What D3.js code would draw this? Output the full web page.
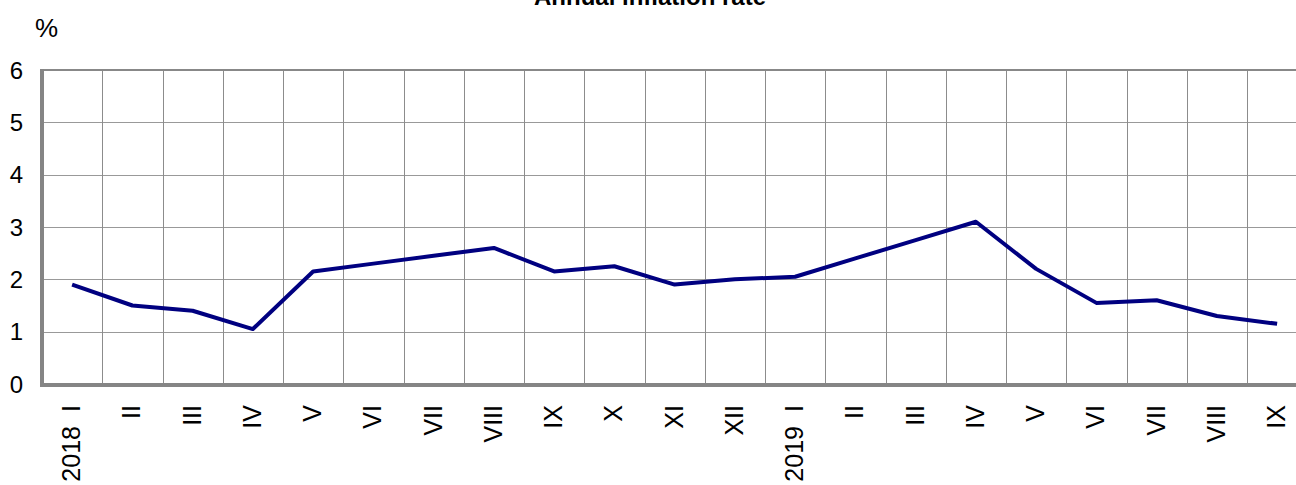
<!DOCTYPE html>
<html>
<head>
<meta charset="utf-8">
<script src="https://cdn.jsdelivr.net/npm/d3@7"></script>
<style>
  body { margin: 0; background: #fff; overflow: hidden; }
  svg { display: block; font-family: "Liberation Sans", Arial, sans-serif; }
</style>
</head>
<body>
<script>
// Months shown on the x axis (year appears only on January)
var months = ["I", "II", "III", "IV", "V", "VI", "VII", "VIII", "IX", "X", "XI", "XII",
  "I", "II", "III", "IV", "V", "VI", "VII", "VIII", "IX"];
var years = ["2018", "", "", "", "", "", "", "", "", "", "", "",
  "2019", "", "", "", "", "", "", "", ""];

// Annual inflation rate, %
var inflation = [1.9, 1.5, 1.4, 1.05, 2.15, 2.3, 2.45, 2.6, 2.15, 2.25, 1.9, 2.0,
  2.05, 2.4, 2.75, 3.1, 2.2, 1.55, 1.6, 1.3, 1.15];

var yTicks = [0, 1, 2, 3, 4, 5, 6];

var margin = { top: 70, left: 42 },
  bandW = 60.25,
  width = bandW * months.length,
  height = 384 - margin.top;

var svg = d3.select("body").append("svg")
  .attr("width", 1296)
  .attr("height", 485);

var g = svg.append("g")
  .attr("transform", "translate(" + margin.left + "," + margin.top + ")");

var x = d3.scaleBand()
  .domain(d3.range(months.length))
  .range([0, width]);

var y = d3.scaleLinear()
  .domain([0, 6])
  .range([height, 0]);

// title
svg.append("text")
  .attr("x", 650)
  .attr("y", 5)
  .attr("text-anchor", "middle")
  .style("font-weight", "bold")
  .style("font-size", "24px")
  .text("Annual inflation rate");

// unit
svg.append("text")
  .attr("x", 35)
  .attr("y", 37)
  .style("font-size", "26px")
  .text("%");

// horizontal grid
g.selectAll(".hgrid")
  .data(yTicks.filter(function (d) { return d > 0 && d < 6; }))
  .enter().append("line")
  .attr("x1", 0)
  .attr("x2", width)
  .attr("y1", function (d) { return Math.round(y(d)) + 0.5; })
  .attr("y2", function (d) { return Math.round(y(d)) + 0.5; })
  .attr("stroke", "#999")
  .attr("stroke-width", 1);

// vertical grid
g.selectAll(".vgrid")
  .data(d3.range(1, months.length))
  .enter().append("line")
  .attr("x1", function (d) { return Math.round(x(d)) + 0.5; })
  .attr("x2", function (d) { return Math.round(x(d)) + 0.5; })
  .attr("y1", 0)
  .attr("y2", height)
  .attr("stroke", "#8c8c8c")
  .attr("stroke-width", 1);

// frame: top, left, bottom
g.append("line")
  .attr("x1", 0).attr("x2", width)
  .attr("y1", y(6)).attr("y2", y(6))
  .attr("stroke", "#888").attr("stroke-width", 2);

g.append("line")
  .attr("x1", 0).attr("x2", width)
  .attr("y1", y(0) + 1).attr("y2", y(0) + 1)
  .attr("stroke", "#858585").attr("stroke-width", 4);

g.append("line")
  .attr("x1", 0).attr("x2", 0)
  .attr("y1", y(6) - 1).attr("y2", y(0) + 3)
  .attr("stroke", "#858585").attr("stroke-width", 4);

// y tick labels
g.selectAll(".ylab")
  .data(yTicks)
  .enter().append("text")
  .attr("x", -19)
  .attr("y", function (d) { return y(d); })
  .attr("dy", "0.36em")
  .attr("text-anchor", "end")
  .style("font-size", "24px")
  .text(function (d) { return d; });

// x labels (rotated)
function labelPos(i, shift) {
  return "translate(" + (x(i) + x.bandwidth() / 2 + 8) + "," + (height + 21 + shift) + ") rotate(-90)";
}

g.selectAll(".xlab")
  .data(months)
  .enter().append("text")
  .attr("transform", function (d, i) { return labelPos(i, 0); })
  .attr("text-anchor", "end")
  .style("font-size", "25px")
  .text(function (d) { return d; });

// year goes below the January numeral
g.selectAll(".xlab-year")
  .data(d3.range(months.length).filter(function (i) { return years[i]; }))
  .enter().append("text")
  .attr("transform", function (i) { return labelPos(i, 21); })
  .attr("text-anchor", "end")
  .style("font-size", "25px")
  .text(function (i) { return years[i]; });

// the line
var line = d3.line()
  .x(function (d, i) { return x(i) + x.bandwidth() / 2; })
  .y(function (d) { return y(d); });

g.append("path")
  .datum(inflation)
  .attr("fill", "none")
  .attr("stroke", "#000080")
  .attr("stroke-width", 4)
  .attr("stroke-linejoin", "round")
  .attr("d", line);
</script>
</body>
</html>
